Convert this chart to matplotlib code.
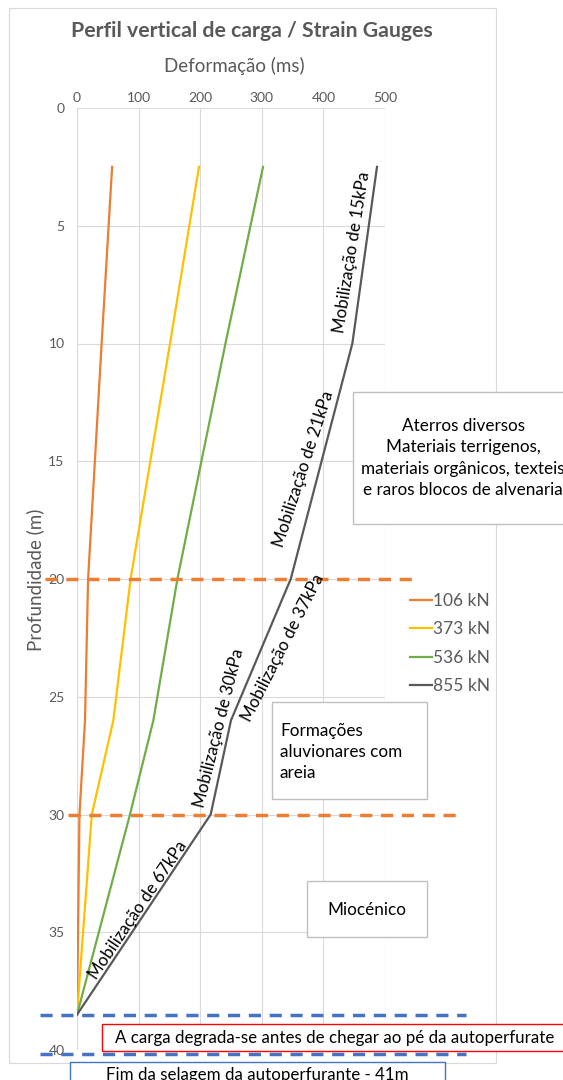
import matplotlib
matplotlib.use("Agg")
import matplotlib.pyplot as plt
from matplotlib.patches import Rectangle

plt.rcParams['font.family'] = ['Lato', 'DejaVu Sans']

# dados dos strain gauges
profundidade = [2.5, 10, 20, 26, 30, 38.5]
cargas = ['106 kN', '373 kN', '536 kN', '855 kN']
def_106 = [57, 40, 18, 13, 4, 0]
def_373 = [198, 151, 87, 59, 24, 0]
def_536 = [302, 241, 163, 124, 86, 0]
def_855 = [487, 447, 347, 250, 217, 0]
cores = ['#ED7D31', '#FFC000', '#70AD47', '#595959']

x_ticks = [0, 100, 200, 300, 400, 500]
y_ticks = [0, 5, 10, 15, 20, 25, 30, 35, 40]

W, H = 563, 1080
fig = plt.figure(figsize=(W / 100, H / 100), dpi=100)


def px(x, y):
    # pixel (origem em cima a esquerda) -> fracao da figura
    return x / W, 1 - y / H


# moldura do grafico
fig.patches.append(Rectangle(px(9, 1063), (496 - 9) / W, (1063 - 8) / H,
                             transform=fig.transFigure, fill=False,
                             edgecolor='#d9d9d9', lw=0.8))

x0, y0 = px(77, 1050)
ax = fig.add_axes([x0, y0, (385 - 77) / W, (1050 - 108) / H])

for serie, cor, lab in zip([def_106, def_373, def_536, def_855], cores, cargas):
    ax.plot(serie, profundidade, color=cor, lw=1.6, label=lab, zorder=3)

ax.set_xlim(0, 500)
ax.set_ylim(40, 0)
ax.set_xticks(x_ticks)
ax.set_yticks(y_ticks)
ax.xaxis.tick_top()
ax.tick_params(length=0, labelsize=10, labelcolor='#595959')
ax.tick_params(axis='x', pad=3)
ax.tick_params(axis='y', pad=9)
ax.grid(True, color='#d9d9d9', lw=0.8)
for s in ax.spines.values():
    s.set_visible(False)
ax.set_axisbelow(True)

fig.text(*px(234, 66), 'Deformação (ms)', ha='center', va='center',
         fontsize=13.5, color='#595959')
fig.text(*px(35, 580), 'Profundidade (m)', ha='center', va='center',
         rotation=90, fontsize=13.5, color='#595959')
fig.text(*px(252, 31), 'Perfil vertical de carga / Strain Gauges',
         ha='center', va='center', fontsize=15.3, fontweight='bold',
         color='#595959')

# linhas de separacao das camadas
tr = ax.get_yaxis_transform()
ax.plot([-0.104, 1.088], [20, 20], transform=tr, color='#ED7D31', lw=2.5,
        dashes=(3.5, 2.5), clip_on=False, zorder=4)
ax.plot([-0.03, 1.234], [30, 30], transform=tr, color='#ED7D31', lw=2.5,
        dashes=(3.5, 2.5), clip_on=False, zorder=4)
ax.plot([-0.12, 1.263], [38.5, 38.5], transform=tr, color='#4472C4', lw=2.5,
        dashes=(3.5, 2.5), clip_on=False, zorder=4)
ax.plot([-0.12, 1.263], [40.15, 40.15], transform=tr, color='#4472C4', lw=2.5,
        dashes=(3.5, 2.5), clip_on=False, zorder=4)

leg = ax.legend(loc='upper left', bbox_to_anchor=(1.058, 0.4926), frameon=False,
                fontsize=12.5, handlelength=1.27, handletextpad=0.05,
                labelspacing=0.72, borderaxespad=0)
for t in leg.get_texts():
    t.set_color('#595959')

# mobilizacao
mob = [('Mobilização de 15kPa', 352, 252, 81),
       ('Mobilização de 21kPa', 304, 469, 72),
       ('Mobilização de 37kPa', 283, 648, 63),
       ('Mobilização de 30kPa', 219, 728, 76),
       ('Mobilização de 67kPa', 138, 910, 56)]
for txt, x, y, r in mob:
    fig.text(*px(x, y), txt, ha='center', va='center', rotation=r,
             rotation_mode='anchor', fontsize=12.2, color='#000000')


def caixa(x1, y1, x2, y2, cor='#bfbfbf'):
    fig.patches.append(Rectangle(px(x1, y2), (x2 - x1) / W, (y2 - y1) / H,
                                 transform=fig.transFigure, facecolor='white',
                                 edgecolor=cor, lw=1, zorder=5))


caixa(353, 392, 570, 524)
fig.text(*px(463, 458), 'Aterros diversos\nMateriais terrigenos,\n'
         'materiais orgânicos, texteis\ne raros blocos de alvenaria',
         ha='center', va='center', fontsize=12.3, linespacing=1.42, zorder=6)

caixa(272, 702, 427, 799)
fig.text(*px(280, 752), 'Formações\naluvionares com\nareia', ha='left',
         va='center', fontsize=12.3, linespacing=1.36, zorder=6)

caixa(307, 881, 427, 937)
fig.text(*px(367, 910), 'Miocénico', ha='center', va='center',
         fontsize=12.3, zorder=6)

caixa(102, 1024, 570, 1051, cor='#FF0000')
fig.text(*px(115, 1038), 'A carga degrada-se antes de chegar ao pé da autoperfurate',
         ha='left', va='center', fontsize=12.2, zorder=6)

caixa(70, 1062, 445, 1090, cor='#4472C4')
fig.text(*px(257, 1075), 'Fim da selagem da autoperfurante - 41m',
         ha='center', va='center', fontsize=12.2, zorder=6)

fig.savefig('out.png', dpi=100)
